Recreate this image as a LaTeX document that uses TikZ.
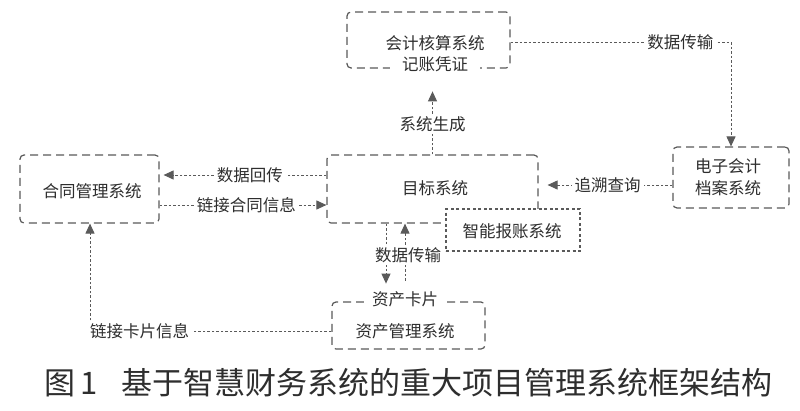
\documentclass[tikz,border=0pt]{standalone}
\usepackage{fontspec}
\setmainfont{Noto Sans CJK SC}
\usetikzlibrary{arrows.meta,calc}
\definecolor{linec}{HTML}{5A5A5A}
\definecolor{textc}{HTML}{2E2E2E}
\tikzset{
  sysbox/.style={draw=linec, line width=1.2pt, dash pattern=on 8pt off 5pt, rounded corners=4pt, inner sep=0pt},
  dotbox/.style={draw=linec, line width=1.3pt, dash pattern=on 3pt off 2.5pt, fill=white, inner sep=0pt},
  conn/.style={draw=linec, line width=1pt, dash pattern=on 2.5pt off 2pt},
  arr/.style={conn, -{Triangle[length=10pt,width=9pt]}},
  txt/.style={text=textc, font=\fontsize{16.5}{18}\selectfont, inner sep=0pt},
  lbl/.style={txt, fill=white, inner xsep=3pt, inner ysep=2pt},
}
\begin{document}
\begin{tikzpicture}[x=1pt,y=-1pt]
\useasboundingbox[fill=white] (0,0) rectangle (800,410);

% boxes
\node[sysbox, minimum width=163pt, minimum height=56pt] (kj) at (428.5,40) {};
\node[sysbox, minimum width=139pt, minimum height=68pt] (ht) at (89.5,189) {};
\node[sysbox, minimum width=211pt, minimum height=68pt] (mb) at (432.5,189) {};
\node[sysbox, minimum width=116pt, minimum height=61pt] (dz) at (731,177.5) {};
\node[sysbox, minimum width=153pt, minimum height=47pt] (zc) at (408.5,325.5) {};

% box texts
\node[txt] (kjt1) at (435,43) {会计核算系统};
\node[lbl, inner xsep=12pt] (kjt2) at (435,64) {记账凭证};
\node[txt] (htt) at (92,191) {合同管理系统};
\node[txt] (mbt) at (435,188) {目标系统};
\node[txt] (dzt1) at (728,166) {电子会计};
\node[txt] (dzt2) at (728,188) {档案系统};
\node[txt] (zct) at (405,331) {资产管理系统};
\node[lbl, inner xsep=8pt] (zck) at (405,299) {资产卡片};

% connectors
\coordinate (sg) at ($(mb.north)+(0,-63)$);
\draw[arr] (mb.north) -- (sg) node[lbl, pos=0.48] (sgl) {系统生成};

\draw[arr] ([yshift=-2pt]kj.east) -| (dz.north) node[lbl, pos=0.385] (sjcs) {数据传输};

\draw[arr] ([yshift=-7.5pt]dz.west) -- ([xshift=9pt,yshift=4pt]mb.east) node[lbl, pos=0.52] (zs) {追溯查询};

\draw[arr] ([yshift=14pt]mb.west) -- ([xshift=4pt,yshift=14pt]ht.east) node[lbl, pos=0.47] (sjht) {数据回传};
\draw[arr] ([yshift=-16pt]ht.east) -- ([yshift=-16pt]mb.west) node[lbl, pos=0.52] (ljht) {链接合同信息};

\coordinate (dn) at ($(mb.south)+(-46.5,60)$);
\coordinate (up) at ($(mb.south)+(-27.5,57)$);
\draw[arr] ([xshift=-46.5pt]mb.south) -- (dn);
\draw[arr] (up) -- ([xshift=-27.5pt]mb.south);
\node[lbl] (sjcs2) at (408,255) {数据传输};

\draw[arr] ([yshift=-5.5pt]zc.west) -| ([xshift=0.5pt]ht.south) node[lbl, pos=0.397] (ljkp) {链接卡片信息};

% small box on top
\node[dotbox, minimum width=134pt, minimum height=42pt] (zn) at (513,230) {};
\node[txt] (znt) at (512,231) {智能报账系统};

% caption
\node[text=textc, font=\fontsize{31}{34}\selectfont, inner sep=0pt, anchor=west] (cap) at (44,383) {图\,1\hspace{24pt}基于智慧财务系统的重大项目管理系统框架结构};
\end{tikzpicture}
\end{document}
